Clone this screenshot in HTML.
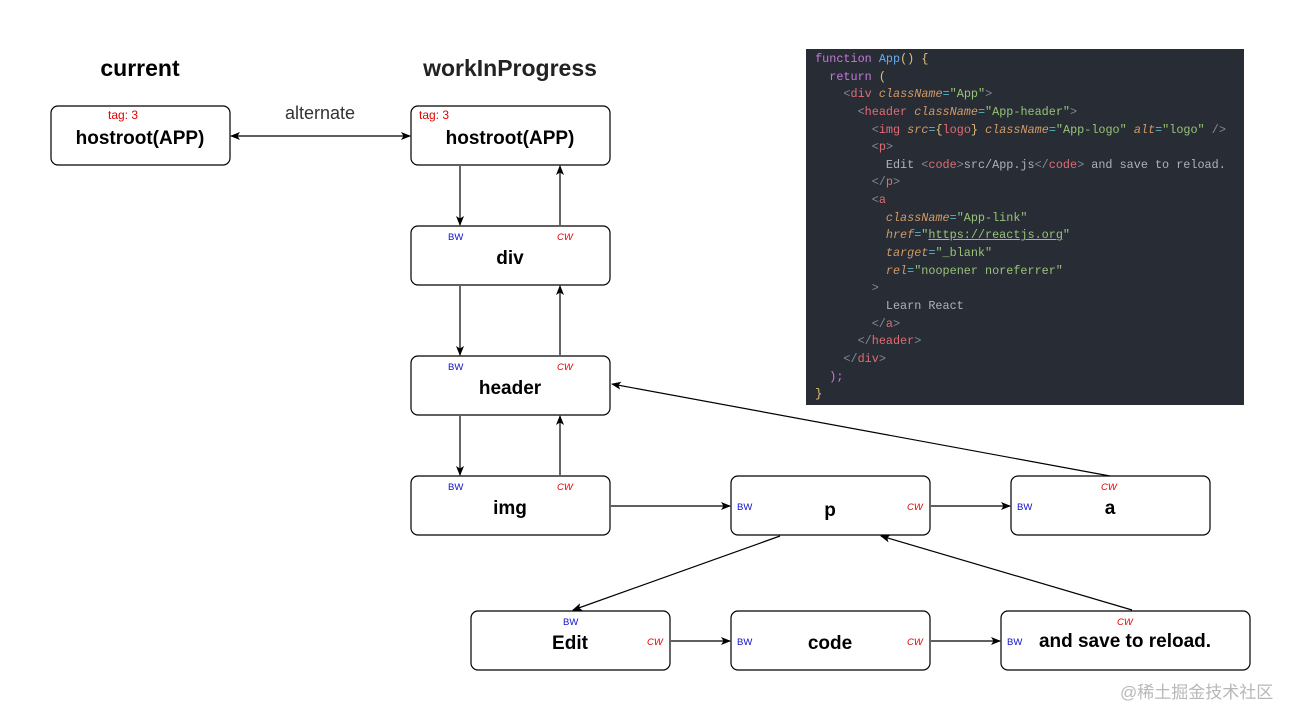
<!DOCTYPE html>
<html><head><meta charset="utf-8"><style>
html,body{margin:0;padding:0;background:#fff;width:1301px;height:721px;overflow:hidden;position:relative}
svg{position:absolute;left:0;top:0}
.code{position:absolute;left:806px;top:49px;width:438px;height:356px;background:#282c34;font-family:"Liberation Mono",monospace;font-size:11.8px;line-height:17.65px;color:#abb2bf;white-space:pre;padding-top:2px;padding-left:2px;box-sizing:border-box}
.code div{height:17.65px}
.k{color:#c678dd}.f{color:#61afef}.y{color:#e5c07b}.t{color:#e06c75}.a{color:#d19a66;font-style:italic}.s{color:#98c379}.p{color:#7f8a9a}.o{color:#56b6c2}
.u{text-decoration:underline}
.wm{position:absolute;left:1120px;top:678px;font-family:"Liberation Sans","Noto Sans CJK SC",sans-serif;font-size:17px;color:#b8b8b8}
</style></head><body>
<svg width="1301" height="721" font-family="Liberation Sans, sans-serif">
<defs><marker id="ah" markerWidth="10" markerHeight="8" refX="9" refY="4" orient="auto" markerUnits="userSpaceOnUse"><path d="M0,0 L10,4 L0,8 L2.5,4 z" fill="#000"/></marker>
<marker id="as" markerWidth="10" markerHeight="8" refX="1" refY="4" orient="auto" markerUnits="userSpaceOnUse"><path d="M10,0 L0,4 L10,8 L7.5,4 z" fill="#000"/></marker></defs>
<g font-weight="bold" font-size="23" text-anchor="middle">
<text x="140" y="76">current</text><text x="510" y="76" fill="#222">workInProgress</text></g>
<text x="320" y="119" font-size="18" text-anchor="middle" fill="#333">alternate</text>
<g fill="#fff" stroke="#000" stroke-width="1.2">
<rect x="51" y="106" width="179" height="59" rx="7"/>
<rect x="411" y="106" width="199" height="59" rx="7"/>
<rect x="411" y="226" width="199" height="59" rx="7"/>
<rect x="411" y="356" width="199" height="59" rx="7"/>
<rect x="411" y="476" width="199" height="59" rx="7"/>
<rect x="731" y="476" width="199" height="59" rx="7"/>
<rect x="1011" y="476" width="199" height="59" rx="7"/>
<rect x="471" y="611" width="199" height="59" rx="7"/>
<rect x="731" y="611" width="199" height="59" rx="7"/>
<rect x="1001" y="611" width="249" height="59" rx="7"/>
</g>
<g stroke="#000" stroke-width="1.2" marker-end="url(#ah)">
<line x1="231" y1="136" x2="410" y2="136" marker-start="url(#as)"/>
<line x1="460" y1="166" x2="460" y2="225"/><line x1="560" y1="225" x2="560" y2="166"/>
<line x1="460" y1="286" x2="460" y2="355"/><line x1="560" y1="355" x2="560" y2="286"/>
<line x1="460" y1="416" x2="460" y2="475"/><line x1="560" y1="475" x2="560" y2="416"/>
<line x1="611" y1="506" x2="730" y2="506"/><line x1="931" y1="506" x2="1010" y2="506"/>
<line x1="1110" y1="476" x2="612" y2="384"/>
<line x1="780" y1="536" x2="573" y2="610"/>
<line x1="671" y1="641" x2="730" y2="641"/><line x1="931" y1="641" x2="1000" y2="641"/>
<line x1="1132" y1="610" x2="881" y2="536"/>
</g>
<g font-weight="bold" font-size="19" text-anchor="middle">
<text x="140" y="144">hostroot(APP)</text><text x="510" y="144">hostroot(APP)</text>
<text x="510" y="264">div</text><text x="510" y="394">header</text><text x="510" y="514">img</text>
<text x="830" y="516">p</text><text x="1110" y="514">a</text>
<text x="570" y="649">Edit</text><text x="830" y="649">code</text><text x="1125" y="647">and save to reload.</text>
</g>
<g font-size="12" fill="#e00000"><text x="108" y="119">tag: 3</text><text x="419" y="119">tag: 3</text></g>
<g font-size="9.5" fill="#1010cc">
<text x="448" y="240">BW</text><text x="448" y="370">BW</text><text x="448" y="490">BW</text>
<text x="737" y="510">BW</text><text x="1017" y="510">BW</text><text x="563" y="625">BW</text>
<text x="737" y="645">BW</text><text x="1007" y="645">BW</text></g>
<g font-size="9.5" fill="#e00000" font-style="italic">
<text x="557" y="240">CW</text><text x="557" y="370">CW</text><text x="557" y="490">CW</text>
<text x="907" y="510">CW</text><text x="1101" y="490">CW</text><text x="647" y="645">CW</text>
<text x="907" y="645">CW</text><text x="1117" y="625">CW</text></g>
</svg>
<div class="code"><div> <span class="k">function</span> <span class="f">App</span><span class="y">() {</span></div><div>   <span class="k">return</span> <span class="y">(</span></div><div>     <span class="p">&lt;</span><span class="t">div</span> <span class="a">className</span><span class="o">=</span><span class="s">"App"</span><span class="p">&gt;</span></div><div>       <span class="p">&lt;</span><span class="t">header</span> <span class="a">className</span><span class="o">=</span><span class="s">"App-header"</span><span class="p">&gt;</span></div><div>         <span class="p">&lt;</span><span class="t">img</span> <span class="a">src</span><span class="o">=</span><span class="y">{</span><span class="t">logo</span><span class="y">}</span> <span class="a">className</span><span class="o">=</span><span class="s">"App-logo"</span> <span class="a">alt</span><span class="o">=</span><span class="s">"logo"</span> <span class="p">/&gt;</span></div><div>         <span class="p">&lt;</span><span class="t">p</span><span class="p">&gt;</span></div><div>           Edit <span class="p">&lt;</span><span class="t">code</span><span class="p">&gt;</span>src/App.js<span class="p">&lt;/</span><span class="t">code</span><span class="p">&gt;</span> and save to reload.</div><div>         <span class="p">&lt;/</span><span class="t">p</span><span class="p">&gt;</span></div><div>         <span class="p">&lt;</span><span class="t">a</span></div><div>           <span class="a">className</span><span class="o">=</span><span class="s">"App-link"</span></div><div>           <span class="a">href</span><span class="o">=</span><span class="s">"<span class="u">https://reactjs.org</span>"</span></div><div>           <span class="a">target</span><span class="o">=</span><span class="s">"_blank"</span></div><div>           <span class="a">rel</span><span class="o">=</span><span class="s">"noopener noreferrer"</span></div><div>         <span class="p">&gt;</span></div><div>           Learn React</div><div>         <span class="p">&lt;/</span><span class="t">a</span><span class="p">&gt;</span></div><div>       <span class="p">&lt;/</span><span class="t">header</span><span class="p">&gt;</span></div><div>     <span class="p">&lt;/</span><span class="t">div</span><span class="p">&gt;</span></div><div>   <span class="k">);</span></div><div> <span class="y">}</span></div></div>
<div class="wm">@稀土掘金技术社区</div>
</body></html>
